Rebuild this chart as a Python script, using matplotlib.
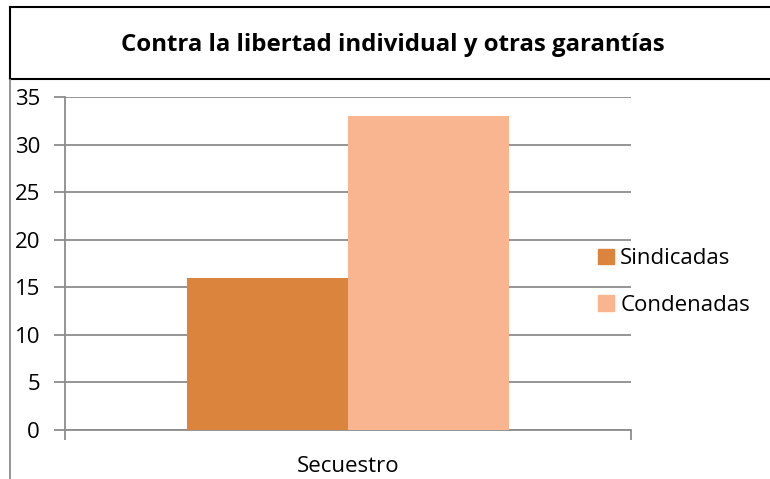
import matplotlib
matplotlib.use("Agg")
import matplotlib.pyplot as plt
from matplotlib.lines import Line2D
from matplotlib.patches import Patch

title = "Contra la libertad individual y otras garantías"
categories = ["Secuestro"]
series_names = ["Sindicadas", "Condenadas"]
sindicadas = [16]
condenadas = [33]
yticks = [0, 5, 10, 15, 20, 25, 30, 35]
colors = ["#DB843D", "#F9B590"]

W, H = 770, 479
fig = plt.figure(figsize=(W / 100, H / 100), dpi=100)
plt.rcParams['font.family'] = ['Open Sans', 'DejaVu Sans']

def fx(px):
    return px / W

def fy(py):
    return 1 - py / H

FS = 16

# Plot area
ax = fig.add_axes([fx(65), fy(430), fx(631) - fx(65), fy(97) - fy(430)])
grid_c = "#8C8C8C"
bw = 0.285
x0 = 0
ax.bar([x0 - bw / 2], sindicadas, width=bw, color=colors[0], label=series_names[0], zorder=3)
ax.bar([x0 + bw / 2], condenadas, width=bw, color=colors[1], label=series_names[1], zorder=3)
ax.set_xlim(-0.5, 0.5)
ax.set_ylim(0, 35)
ax.set_yticks(yticks)
ax.set_yticklabels([str(v) for v in yticks], fontsize=FS)
ax.yaxis.grid(True, color=grid_c, linewidth=1.3, zorder=0)
ax.set_xticks([-0.5, 0.5])
ax.set_xticklabels(["", ""])
ax.xaxis.set_minor_locator(matplotlib.ticker.FixedLocator([0]))
ax.set_xticklabels(categories, minor=True, fontsize=FS)
ax.tick_params(axis='x', which='minor', length=0, pad=19)
ax.tick_params(axis='x', which='major', length=7, width=1.3, color=grid_c)
ax.tick_params(axis='y', length=8, width=1.3, color=grid_c, pad=10)
for t in ax.get_yticklabels():
    t.set_horizontalalignment('right')
for s in ["top", "right"]:
    ax.spines[s].set_visible(False)
for s in ["left", "bottom"]:
    ax.spines[s].set_color(grid_c)
    ax.spines[s].set_linewidth(1.3)

# Legend
handles = [Patch(color=colors[0], label=series_names[0]),
           Patch(color=colors[1], label=series_names[1])]
fig.legend(handles=handles, loc='center left', bbox_to_anchor=(fx(598), fy(282)),
           frameon=False, fontsize=FS, handlelength=0.7, handleheight=0.7,
           handletextpad=0.3, labelspacing=1.15, borderaxespad=0, borderpad=0)

# Title
fig.text(fx(393), fy(45), title, ha='center', va='center', fontsize=17.3, fontweight='bold')

# Title box (black) and chart border (gray)
lw = 1.5
fig.add_artist(Line2D([fx(10), fx(770)], [fy(7), fy(7)], color='black', lw=lw))
fig.add_artist(Line2D([fx(10), fx(770)], [fy(79), fy(79)], color='black', lw=lw))
fig.add_artist(Line2D([fx(10), fx(10)], [fy(7), fy(79)], color='black', lw=lw))
fig.add_artist(Line2D([fx(9.5), fx(9.5)], [fy(80), fy(479)], color=grid_c, lw=1.3))

fig.savefig("out.png", dpi=100)
